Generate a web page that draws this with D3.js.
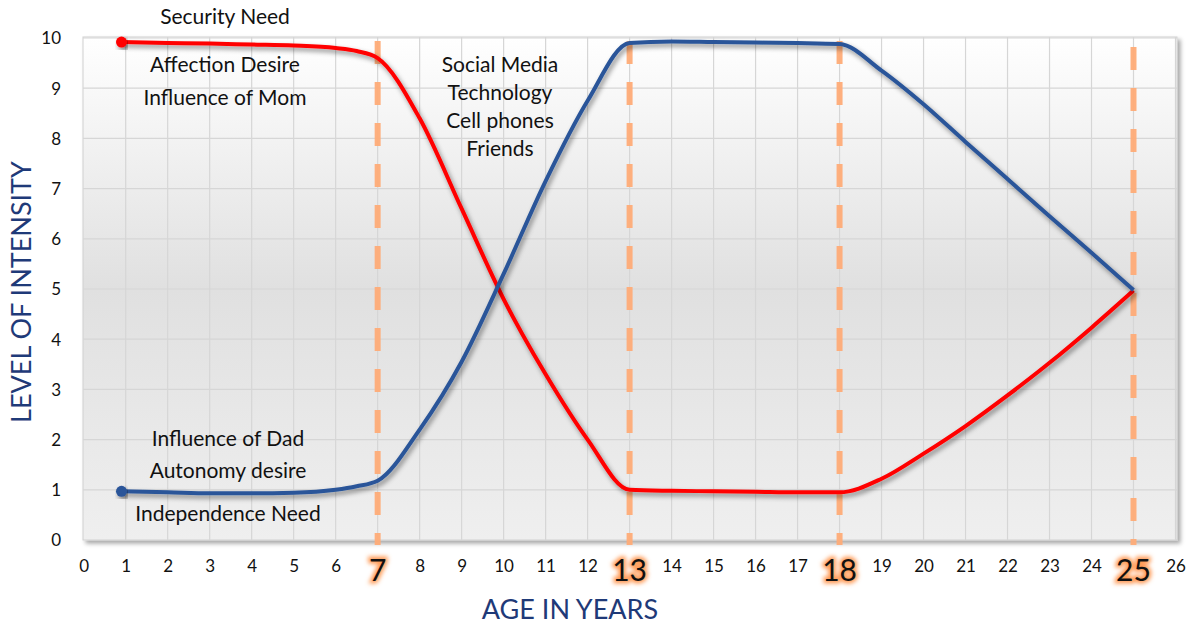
<!DOCTYPE html>
<html><head><meta charset="utf-8">
<script src="https://cdn.jsdelivr.net/npm/d3@7"></script>
<style>html,body{margin:0;padding:0;background:#fff}</style>
</head><body><svg id="c" width="1192" height="627"></svg>
<script>
const ages = [0.9,2,3,4,5,6,6.5,7,8,9,10,11,12,13,14,15,16,17,18,19,20,21,22,23,24,25];
const securityNeed = [9.92,9.9,9.89,9.87,9.85,9.8,9.74,9.6,8.4,6.6,4.8,3.3,2.0,1.0,0.98,0.97,0.96,0.95,0.95,1.22,1.72,2.27,2.88,3.53,4.23,4.97];
const independenceNeed = [0.97,0.95,0.93,0.93,0.94,1.0,1.07,1.18,2.2,3.55,5.3,7.15,8.75,9.9,9.93,9.92,9.91,9.9,9.88,9.35,8.68,7.93,7.19,6.45,5.72,4.98];
const milestones = [7,13,18,25];
const xTicks = d3.range(0,27);
const yTicks = d3.range(0,11);
const topLabels = ["Security Need","Affection Desire","Influence of Mom"];
const midLabels = ["Social Media","Technology","Cell phones","Friends"];
const bottomLabels = ["Influence of Dad","Autonomy desire","Independence Need"];

const svg = d3.select("#c");
const FONT = "Lato, 'Open Sans', sans-serif";
const x = d3.scaleLinear().domain([0,26]).range([83.7,1175.5]);
const y = d3.scaleLinear().domain([0,10]).range([540,38]);
const L = 83, R = 1177, T = 37, B = 540;

const defs = svg.append("defs");
const g = defs.append("linearGradient").attr("id","bg").attr("x1",0).attr("y1",0).attr("x2",0).attr("y2",1);
g.append("stop").attr("offset","0%").attr("stop-color","#ffffff");
g.append("stop").attr("offset","50%").attr("stop-color","#e0e0e0");
g.append("stop").attr("offset","100%").attr("stop-color","#efefef");
const sh = defs.append("filter").attr("id","shadow").attr("x","-5%").attr("y","-5%").attr("width","110%").attr("height","120%");
sh.append("feDropShadow").attr("dx",2).attr("dy",3).attr("stdDeviation",2.5).attr("flood-color","#000").attr("flood-opacity",0.45);
const psh = defs.append("filter").attr("id","pshadow").attr("x","-2%").attr("y","-2%").attr("width","105%").attr("height","106%");
psh.append("feDropShadow").attr("dx",3).attr("dy",3).attr("stdDeviation",2).attr("flood-color","#000").attr("flood-opacity",0.35);
const glow = defs.append("filter").attr("id","glow").attr("x","-50%").attr("y","-50%").attr("width","200%").attr("height","200%");
glow.append("feGaussianBlur").attr("stdDeviation",2.2);

// plot background
svg.append("rect").attr("x",L).attr("y",T).attr("width",R-L).attr("height",B-T)
  .attr("fill","url(#bg)").attr("stroke","#d0d0d0").attr("filter","url(#pshadow)");

// grid
svg.append("g").selectAll("line").data(xTicks.slice(1)).join("line")
  .attr("x1",d=>x(d)).attr("x2",d=>x(d)).attr("y1",T).attr("y2",B)
  .attr("stroke","#d6d6d6").attr("stroke-width",1.2);
svg.append("g").selectAll("line").data(yTicks.slice(1)).join("line")
  .attr("x1",L).attr("x2",R).attr("y1",d=>y(d)).attr("y2",d=>y(d))
  .attr("stroke","#d6d6d6").attr("stroke-width",1.2);

// milestone dashed lines
svg.append("g").selectAll("line").data(milestones).join("line")
  .attr("x1",d=>x(d)).attr("x2",d=>x(d)).attr("y1",d=>d===25?47:41).attr("y2",545)
  .attr("stroke","#ffac78").attr("stroke-width",6).attr("stroke-dasharray","23,18").attr("opacity",0.95);

// annotations
function block(lines, cx, ys, size){
  svg.append("g").selectAll("text").data(lines).join("text")
    .attr("x",cx).attr("y",(d,i)=>ys[i]).attr("text-anchor","middle")
    .attr("font-family",FONT).attr("font-size",size).attr("fill","#111").text(d=>d);
}
block(topLabels, 225, [24,72,105], 21);
block(midLabels, 500, [72,100,128,156], 21);
block(bottomLabels, 228, [446,478,521], 21);

// lines
const line = d3.line().x((d,i)=>x(ages[i])).y(d=>y(d)).curve(d3.curveMonotoneX);
const series = [{vals:securityNeed,color:"#ff0000"},{vals:independenceNeed,color:"#2a5599"}];
series.forEach(s=>{
  svg.append("path").datum(s.vals).attr("d",line).attr("fill","none")
    .attr("stroke",s.color).attr("stroke-width",4).attr("stroke-linejoin","round").attr("filter","url(#shadow)");
  svg.append("circle").attr("cx",x(ages[0])).attr("cy",y(s.vals[0])).attr("r",5.5).attr("fill",s.color).attr("filter","url(#shadow)");
});

// y axis labels
const yAx = svg.append("g").attr("transform",`translate(${L-19},0)`)
  .call(d3.axisLeft(y).tickValues(yTicks).tickSize(0).tickFormat(d3.format("d")));
yAx.select(".domain").remove();
yAx.selectAll("text").attr("font-family",FONT).attr("font-size",17).attr("fill","#111").attr("dy","0.35em");

// x axis labels
const normal = xTicks.filter(d=>!milestones.includes(d));
const xAx = svg.append("g").attr("transform",`translate(0,${B+17})`)
  .call(d3.axisBottom(x).tickValues(normal).tickSize(0).tickFormat(d3.format("d")));
xAx.select(".domain").remove();
xAx.selectAll("text").attr("font-family",FONT).attr("font-size",17).attr("fill","#111").attr("dy","0.71em");

const mg = svg.append("g");
mg.selectAll("text.gl").data(milestones).join("text").attr("class","gl")
  .attr("x",d=>x(d)).attr("y",581).attr("text-anchor","middle")
  .attr("font-family",FONT).attr("font-size",30)
  .attr("fill","#ff9a55").attr("stroke","#ff9a55").attr("stroke-width",5).attr("filter","url(#glow)").text(d=>d);
mg.selectAll("text.fg").data(milestones).join("text").attr("class","fg")
  .attr("x",d=>x(d)).attr("y",581).attr("text-anchor","middle")
  .attr("font-family",FONT).attr("font-size",30).attr("fill","#111").text(d=>d);

// axis titles
svg.append("text").attr("x",570).attr("y",619).attr("text-anchor","middle")
  .attr("font-family",FONT).attr("font-size",27).attr("fill","#1f3a78").text("AGE IN YEARS");
svg.append("text").attr("transform","translate(31,292) rotate(-90)").attr("text-anchor","middle")
  .attr("font-family",FONT).attr("font-size",27).attr("fill","#1f3a78").text("LEVEL OF INTENSITY");
</script></body></html>
